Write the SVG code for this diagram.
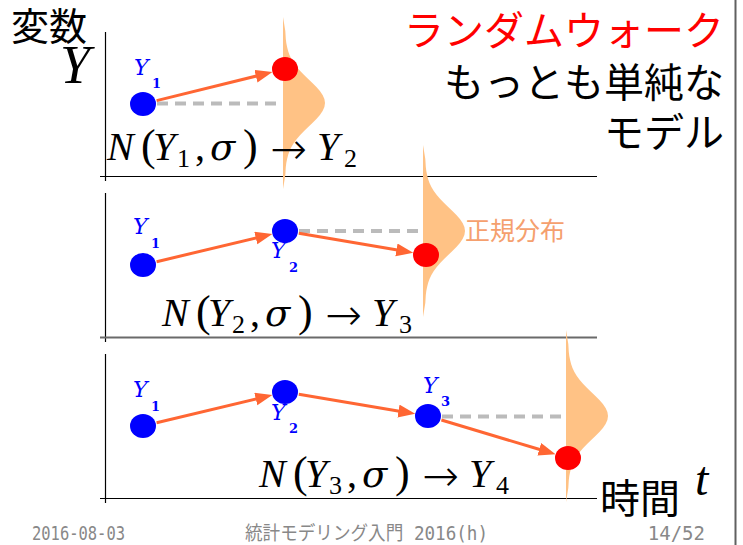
<svg xmlns="http://www.w3.org/2000/svg" width="743" height="545" viewBox="0 0 743 545">
<style>
.ax{stroke:#000;stroke-width:1.2;fill:none}
.dash{stroke:#bbbbbb;stroke-width:4;stroke-dasharray:11 7;fill:none}
.arr{stroke:#ff6633;stroke-width:3;fill:none;marker-end:url(#ah)}
.dist{fill:#ffc285}
.blue{fill:#0000ff}
.red{fill:#ff0000}
.jp{font-family:"Noto Sans CJK JP","Noto Sans",sans-serif}
.math{font-family:"Liberation Serif","DejaVu Serif",serif;font-size:40px;fill:#000}
.it{font-style:italic}
.pa{font-size:44px}
.sg{font-family:"DejaVu Serif",serif;font-style:italic;font-size:37px}
.ar{font-family:"DejaVu Sans",sans-serif;font-weight:200;font-size:44px}
.sub{font-size:26px;font-style:normal}
.lbl{font-family:"DejaVu Serif",serif;fill:#0000ff;font-style:italic;font-size:22px}
.lsub{font-size:13px;font-style:normal;font-weight:bold}
.foot{font-family:"DejaVu Sans Mono","Noto Sans CJK JP",monospace;font-size:19px;fill:#888}
</style>
<defs>
<marker id="ah" markerUnits="userSpaceOnUse" markerWidth="18" markerHeight="14" refX="4" refY="6.5" orient="auto">
<path d="M0,0 L17,6.5 L0,13 Z" fill="#ff6633"/>
</marker>
<path id="gauss" d="M0,-86 L1,-80 L2.3,-72 L2.8,-64 L3.3,-60 L4.1,-56 L5.1,-52 L6.5,-48 L8.4,-44 L10.8,-40 L13.75,-36 L17.2,-32 L21.1,-28 L25.2,-24 L29.4,-20 L33.4,-16 L36.9,-12 L39.6,-8 L41.4,-4 L42,0 L41.4,4 L39.6,8 L36.9,12 L33.4,16 L29.4,20 L25.2,24 L21.1,28 L17.2,32 L13.75,36 L10.8,40 L8.4,44 L6.5,48 L5.1,52 L4.1,56 L3.3,60 L2.8,64 L2.3,72 L1,80 L0,86 Z"/>
</defs>
<rect width="743" height="545" fill="#fff"/>
<line x1="735.5" y1="0" x2="735.5" y2="545" stroke="#606060" stroke-width="2"/>

<g id="header">
<text class="jp" x="11" y="40" font-size="38">変数</text>
<text x="60" y="83" font-family="Liberation Serif,serif" font-style="italic" font-size="54">Y</text>
<text class="jp" x="724" y="45" font-size="40" fill="#ff0000" text-anchor="end">ランダムウォーク</text>
<text class="jp" x="724" y="97" font-size="40" fill="#000" text-anchor="end">もっとも単純な</text>
<text class="jp" x="724" y="147" font-size="40" fill="#000" text-anchor="end">モデル</text>
</g>

<g id="axes">
<line class="ax" x1="105.5" y1="32" x2="105.5" y2="181"/>
<line class="ax" x1="100" y1="176.5" x2="597" y2="176.5"/>
<line class="ax" x1="105.5" y1="193" x2="105.5" y2="342"/>
<line x1="100" y1="337.5" x2="597" y2="337.5" stroke="#6a6a6a" stroke-width="2"/>
<line class="ax" x1="105.5" y1="354" x2="105.5" y2="503"/>
<line class="ax" x1="100" y1="498.5" x2="597" y2="498.5"/>
</g>

<g id="distributions">
<use href="#gauss" class="dist" transform="translate(283,103)"/>
<use href="#gauss" class="dist" transform="translate(423,231)"/>
<use href="#gauss" class="dist" transform="translate(566,416)"/>
</g>

<g id="connectors">
<line class="dash" x1="157" y1="103.5" x2="283" y2="103.5"/>
<line class="dash" x1="299" y1="231" x2="423" y2="231"/>
<line class="dash" x1="442" y1="416.5" x2="566" y2="416.5"/>
<line class="arr" x1="156.6" y1="100.6" x2="259.8" y2="75.2"/>
<line class="arr" x1="156.6" y1="261.7" x2="259.7" y2="237.1"/>
<line class="arr" x1="298.8" y1="233.3" x2="400.4" y2="250.6"/>
<line class="arr" x1="156.6" y1="422.7" x2="259.7" y2="398.1"/>
<line class="arr" x1="298.8" y1="394.3" x2="402.4" y2="411.7"/>
<line class="arr" x1="441.4" y1="420" x2="543.1" y2="450.5"/>
</g>

<g id="panel1">
<ellipse class="blue" cx="143" cy="104" rx="13" ry="12"/>
<ellipse class="red" cx="285" cy="69" rx="13" ry="12"/>
<text class="lbl" x="134" y="75">Y<tspan class="lsub" x="152" y="88">1</tspan></text>
<text class="math"><tspan class="it" x="107" y="160">N</tspan><tspan class="pa" x="141" y="160">(</tspan><tspan class="it" x="153" y="160">Y</tspan><tspan class="sub" x="177" y="167">1</tspan><tspan x="195" y="160">,</tspan><tspan class="sg" x="210" y="160">σ</tspan><tspan class="pa" x="243" y="160">)</tspan><tspan class="ar" x="270" y="164">→</tspan><tspan class="it" x="317" y="160">Y</tspan><tspan class="sub" x="344" y="167">2</tspan></text>
</g>

<g id="panel2">
<ellipse class="blue" cx="143" cy="265" rx="13" ry="12"/>
<ellipse class="blue" cx="285" cy="231" rx="13" ry="12"/>
<ellipse class="red" cx="426" cy="255" rx="13" ry="12"/>
<text class="lbl" x="133" y="234">Y<tspan class="lsub" x="151" y="248">1</tspan></text>
<text class="lbl" x="271" y="258">Y<tspan class="lsub" x="289" y="272">2</tspan></text>
<text class="jp" x="465" y="240" font-size="25" fill="#f5a06e">正規分布</text>
<text class="math"><tspan class="it" x="162" y="326">N</tspan><tspan class="pa" x="196" y="326">(</tspan><tspan class="it" x="208" y="326">Y</tspan><tspan class="sub" x="232" y="333">2</tspan><tspan x="250" y="326">,</tspan><tspan class="sg" x="265" y="326">σ</tspan><tspan class="pa" x="298" y="326">)</tspan><tspan class="ar" x="325" y="330">→</tspan><tspan class="it" x="372" y="326">Y</tspan><tspan class="sub" x="399" y="333">3</tspan></text>
</g>

<g id="panel3">
<ellipse class="blue" cx="143" cy="426" rx="13" ry="12"/>
<ellipse class="blue" cx="285" cy="392" rx="13" ry="12"/>
<ellipse class="blue" cx="428" cy="416" rx="13" ry="12"/>
<ellipse class="red" cx="568" cy="458" rx="13" ry="12"/>
<text class="lbl" x="133" y="397">Y<tspan class="lsub" x="151" y="411">1</tspan></text>
<text class="lbl" x="271" y="420">Y<tspan class="lsub" x="289" y="433">2</tspan></text>
<text class="lbl" x="423" y="393">Y<tspan class="lsub" x="441" y="406">3</tspan></text>
<text class="math"><tspan class="it" x="259" y="487">N</tspan><tspan class="pa" x="293" y="487">(</tspan><tspan class="it" x="305" y="487">Y</tspan><tspan class="sub" x="329" y="494">3</tspan><tspan x="347" y="487">,</tspan><tspan class="sg" x="362" y="487">σ</tspan><tspan class="pa" x="395" y="487">)</tspan><tspan class="ar" x="422" y="491">→</tspan><tspan class="it" x="469" y="487">Y</tspan><tspan class="sub" x="496" y="494">4</tspan></text>
</g>

<g id="time-axis-label">
<text class="jp" x="600" y="513" font-size="40" fill="#000">時間</text>
<text x="695" y="495" font-family="Liberation Serif,serif" font-style="italic" font-size="48">t</text>
</g>

<g id="footer">
<text class="foot" x="32" y="540" textLength="93" lengthAdjust="spacingAndGlyphs">2016-08-03</text>
<text class="foot" x="245" y="540" textLength="243" lengthAdjust="spacingAndGlyphs">統計モデリング入門 2016(h)</text>
<text class="foot" x="705" y="540" text-anchor="end">14/52</text>
</g>
</svg>
